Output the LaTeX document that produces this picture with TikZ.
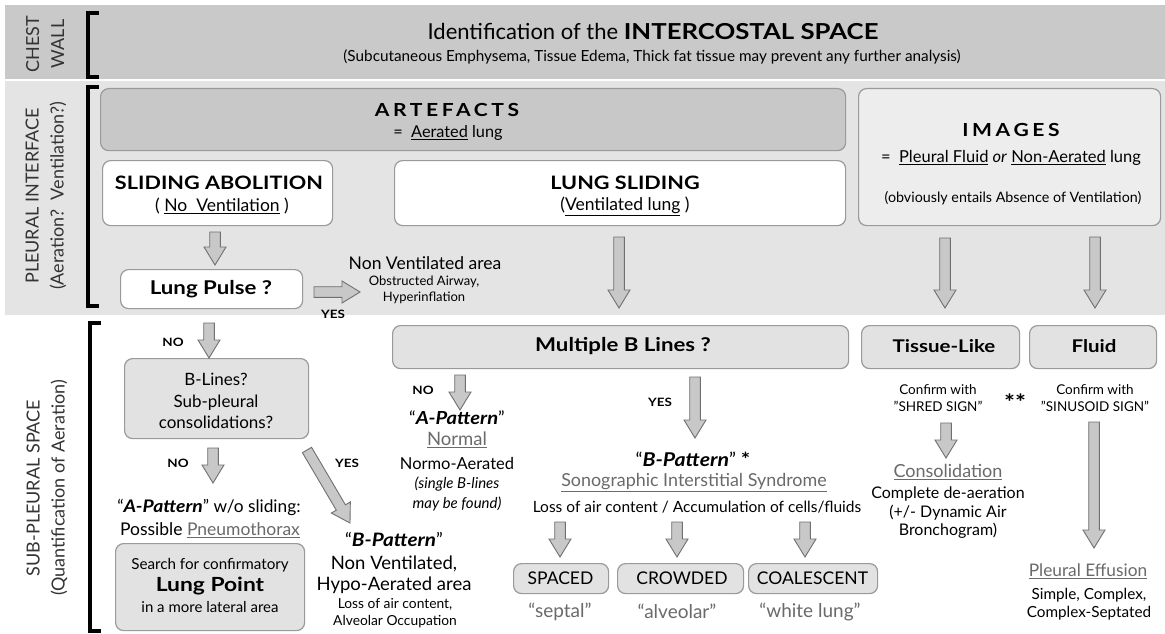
\documentclass[tikz,border=0pt]{standalone}
\usepackage{fontspec}
\setmainfont{Lato}[BoldFeatures={FakeStretch=1.17}, BoldItalicFeatures={FakeStretch=1.12}]
\usetikzlibrary{calc}
\definecolor{bandA}{HTML}{C9C9C9}
\definecolor{bandB}{HTML}{E4E4E4}
\definecolor{artfill}{HTML}{C8C8C8}
\definecolor{imgfill}{HTML}{EDEDED}
\definecolor{lightfill}{HTML}{E2E2E2}
\definecolor{boxline}{HTML}{9A9A9A}
\definecolor{arrfill}{HTML}{C8C8C8}
\definecolor{arrline}{HTML}{707070}
\definecolor{graytext}{HTML}{6A6A6A}
\definecolor{labtext}{HTML}{333333}
\newcommand\fs[2]{\fontsize{#1}{#2}\selectfont}
\newcommand\gul[1]{\underline{#1}}
\tikzset{
  box/.style={draw=boxline, line width=1.2pt, rounded corners=8pt, inner sep=0pt, anchor=north west},
  whitebox/.style={box, fill=white},
  lightbox/.style={box, fill=lightfill},
  txt/.style={inner sep=0pt, text=black, align=center},
  sidelab/.style={rotate=90, inner sep=0pt, align=center, text=labtext, font=\fs{18}{25}},
  barrow/.style={fill=arrfill, draw=arrline, line width=0.9pt, line join=miter},
  yn/.style={inner sep=0pt, font=\fs{11.5}{13}\bfseries},
  brk/.style={line width=3.2pt, line cap=butt}
}
\newcommand\blockarrow[5]{%
  \coordinate (bh) at ($(#2)!#5!(#1)$);
  \filldraw[barrow] ($(#1)!#3!90:(#2)$) -- ($(bh)!#3!-90:(#1)$) -- ($(bh)!#4!-90:(#1)$) -- (#2) -- ($(bh)!#4!90:(#1)$) -- ($(bh)!#3!90:(#1)$) -- ($(#1)!#3!-90:(#2)$) -- cycle;}
\begin{document}
\begin{tikzpicture}[x=1pt,y=-1pt]
\useasboundingbox (0,0) rectangle (1165,634);
\fill[white] (0,0) rectangle (1165,634);
% bands
\fill[bandA] (5,5) rectangle (1165,79);
\fill[bandB] (5,81) rectangle (1165,315);
% side labels
\node[sidelab] (lchest) at (45,44) {CHEST\\WALL};
\node[sidelab] (lpleural) at (46,196) {PLEURAL INTERFACE\\(Aeration?\ \ Ventilation?)};
\node[sidelab] (lsub) at (47,488) {SUB-PLEURAL SPACE\\(Quantification of Aeration)};
% brackets
\draw[brk] (99,13) -- (88,13) -- (88,77) -- (99,77);
\draw[brk] (99,87) -- (88,87) -- (88,306) -- (99,306);
\draw[brk] (101,323) -- (90,323) -- (90,631) -- (101,631);
% title
\node[txt, font=\fs{22}{26}] (title) at (653,31) {Identification of the \textbf{INTERCOSTAL SPACE}};
\node[txt, font=\fs{15.3}{18}] (subtitle) at (652,57) {(Subcutaneous Emphysema, Tissue Edema, Thick fat tissue may prevent any further analysis)};
% boxes band 2
\node[box, fill=artfill, minimum width=745pt, minimum height=62pt] (artefacts) at (100,88) {};
\node[txt, font=\fs{18}{20}\bfseries] (arttitle) at (447,110) {\addfontfeatures{LetterSpace=20}ARTEFACTS};
\node[txt, font=\fs{16.3}{18}] (artsub) at (448,133) {=\ \ \gul{Aerated} lung};
\node[box, fill=imgfill, minimum width=302pt, minimum height=137pt] (images) at (858,88) {};
\node[txt, font=\fs{18}{20}\bfseries] (imgtitle) at (1011,130) {\addfontfeatures{LetterSpace=20}IMAGES};
\node[txt, font=\fs{16.5}{19}] (imgsub) at (1011,158) {=\ \ \gul{Pleural Fluid} \textit{or} \gul{Non-Aerated} lung};
\node[txt, font=\fs{14.3}{17}] (imgnote) at (1013,198) {(obviously entails Absence of Ventilation)};
\node[whitebox, minimum width=230pt, minimum height=65pt] (slab) at (102,160) {};
\node[txt, font=\fs{18.5}{22}\bfseries] (slabt) at (219,183) {SLIDING ABOLITION};
\node[txt, font=\fs{17.5}{20}] (slabs) at (222,206) {( \gul{No\ \ Ventilation} )};
\node[whitebox, minimum width=451pt, minimum height=65pt] (lsl) at (394,160) {};
\node[txt, font=\fs{18.5}{22}\bfseries] (lslt) at (625,183) {LUNG SLIDING};
\node[txt, font=\fs{17.5}{20}] (lsls) at (625,206) {(\gul{Ventilated lung} )};
\node[whitebox, minimum width=182pt, minimum height=39pt] (pulse) at (120,269) {};
\node[txt, font=\fs{19}{22}\bfseries] (pulset) at (211,289) {Lung Pulse ?};
\node[txt, font=\fs{17.5}{20}] (nonvent) at (425,263) {Non Ventilated area};
\node[txt, font=\fs{13}{16}] (nonvent2) at (424,290) {Obstructed Airway,\\Hyperinflation};
\node[yn] (yes1) at (333,314) {YES};
% band 3
\node[lightbox, minimum width=184pt, minimum height=80pt] (blines) at (124,358) {};
\node[txt, font=\fs{17}{21.5}] (blinest) at (216,401) {B-Lines?\\Sub-pleural\\consolidations?};
\node[yn] (no1) at (173,342) {NO};
\node[yn] (no2) at (178,463) {NO};
\node[yn] (yes2) at (347,463) {YES};
\node[txt, font=\fs{17.3}{20}] (apat1) at (209,507) {“\textbf{\textit{A-Pattern}}” w/o sliding:};
\node[txt, font=\fs{17.5}{20}] (pneumo) at (210,530) {Possible \textcolor{graytext}{\gul{Pneumothorax}}};
\node[lightbox, minimum width=189pt, minimum height=87pt] (lpoint) at (115,543) {};
\node[txt, font=\fs{15.2}{17}] (lpoint1) at (210,565) {Search for confirmatory};
\node[txt, font=\fs{19.5}{22}\bfseries] (lpoint2) at (210,586) {Lung Point};
\node[txt, font=\fs{15}{17}] (lpoint3) at (210,607) {in a more lateral area};
\node[txt, font=\fs{18.5}{23}] (bpat1) at (394,563) {“\textbf{\textit{B-Pattern}}”\\Non Ventilated,\\[-2pt]Hypo-Aerated area};
\node[txt, font=\fs{13.8}{17}] (bpat1b) at (395,613) {Loss of air content,\\Alveolar Occupation};
\node[lightbox, minimum width=456pt, minimum height=43pt] (multi) at (392,325) {};
\node[txt, font=\fs{19}{22}\bfseries] (multit) at (623,346) {Multiple B Lines ?};
\node[yn] (no3) at (423,390) {NO};
\node[yn] (yes3) at (660,402) {YES};
\node[txt, font=\fs{18}{21}] (apat2) at (457,418) {“\textbf{\textit{A-Pattern}}”};
\node[txt, font=\fs{18.5}{21}, text=graytext] (normal) at (457,440) {\gul{Normal}};
\node[txt, font=\fs{16.5}{19}] (normo) at (457,463) {Normo-Aerated};
\node[txt, font=\fs{15}{19.5}\itshape] (single) at (457,494) {(single B-lines\\may be found)};
\node[txt, font=\fs{19}{22}] (bpat2) at (693,459) {“\textbf{\textit{B-Pattern}}” \textbf{*}};
\node[txt, font=\fs{17.9}{20}, text=graytext] (sis) at (694,483) {\gul{Sonographic Interstitial Syndrome}};
\node[txt, font=\fs{15.5}{18}] (loss) at (697,507) {Loss of air content / Accumulation of cells/fluids};
\node[lightbox, minimum width=95pt, minimum height=30pt] (spaced) at (513,563) {};
\node[txt, font=\fs{17.5}{19}] (spacedt) at (560.5,578) {SPACED};
\node[lightbox, minimum width=126pt, minimum height=30pt] (crowded) at (617,563) {};
\node[txt, font=\fs{17.5}{19}] (crowdedt) at (682,578) {CROWDED};
\node[lightbox, minimum width=129pt, minimum height=30pt] (coal) at (748,563) {};
\node[txt, font=\fs{17.5}{19}] (coalt) at (812.5,578) {COALESCENT};
\node[txt, font=\fs{19}{21}, text=graytext] (septal) at (560,612) {“septal”};
\node[txt, font=\fs{19}{21}, text=graytext] (alveolar) at (677,611) {“alveolar”};
\node[txt, font=\fs{19}{21}, text=graytext] (white) at (810,612) {“white lung”};
\node[lightbox, minimum width=158pt, minimum height=43pt] (tissue) at (861,325) {};
\node[txt, font=\fs{17.5}{20}\bfseries] (tissuet) at (944,346) {Tissue-Like};
\node[lightbox, minimum width=127pt, minimum height=43pt] (fluid) at (1029,325) {};
\node[txt, font=\fs{17.5}{20}\bfseries] (fluidt) at (1094,346) {Fluid};
\node[txt, font=\fs{13.5}{17}] (shred) at (938,398) {Confirm with\\"SHRED SIGN"};
\node[txt, font=\fs{22}{22}\bfseries] (stars) at (1015,402) {**};
\node[txt, font=\fs{13.5}{17}] (sinus) at (1095,398) {Confirm with\\"SINUSOID SIGN"};
\node[txt, font=\fs{18}{20}, text=graytext] (consol) at (948,472) {\gul{Consolidation}};
\node[txt, font=\fs{16}{18.5}] (consol2) at (948,513) {Complete de-aeration\\(+/- Dynamic Air\\Bronchogram)};
\node[txt, font=\fs{17.3}{20}, text=graytext] (effusion) at (1088,571) {\gul{Pleural Effusion}};
\node[txt, font=\fs{15.3}{18.5}] (effusion2) at (1089,604) {Simple, Complex,\\Complex-Septated};
% block arrows
\coordinate (a1s) at (215,232); \coordinate (a1e) at (215,265);
\coordinate (a2s) at (314,292); \coordinate (a2e) at (360,292);
\coordinate (a3s) at (619,237); \coordinate (a3e) at (619,308);
\coordinate (a4s) at (945,238); \coordinate (a4e) at (945,308);
\coordinate (a5s) at (1095,237); \coordinate (a5e) at (1095,308);
\coordinate (a6s) at (209,323); \coordinate (a6e) at (209,358);
\coordinate (a7s) at (213,448); \coordinate (a7e) at (213,483);
\coordinate (a8s) at (307,450); \coordinate (a8e) at (350,523);
\coordinate (a9s) at (460,375); \coordinate (a9e) at (460,410);
\coordinate (a10s) at (695,377); \coordinate (a10e) at (695,438);
\coordinate (a11s) at (560,522); \coordinate (a11e) at (560,557);
\coordinate (a12s) at (677,522); \coordinate (a12e) at (677,557);
\coordinate (a13s) at (805,522); \coordinate (a13e) at (805,557);
\coordinate (a14s) at (946,423); \coordinate (a14e) at (946,458);
\coordinate (a15s) at (1094,422); \coordinate (a15e) at (1094,548);
\foreach \i in {1,...,15}{\blockarrow{a\i s}{a\i e}{5.3pt}{11pt}{18pt}}
\end{tikzpicture}
\end{document}
